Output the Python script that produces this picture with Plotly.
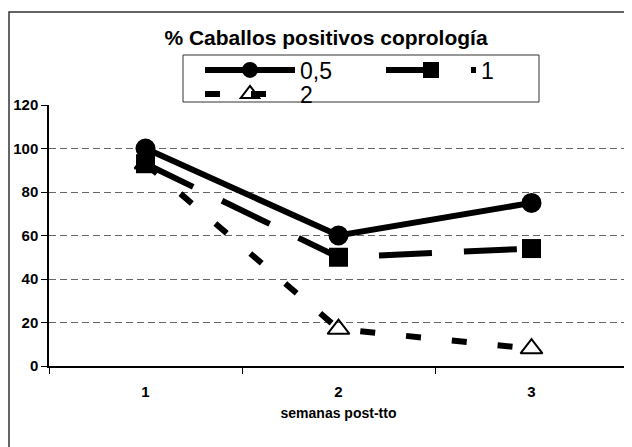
import plotly.graph_objects as go

# semanas post-tratamiento
weeks = [1, 2, 3]

# % caballos positivos por dosis
dose_labels = ["0,5", "1", "2"]
pos_05 = [100, 60, 75]
pos_1 = [93, 50, 54]
pos_2 = [93, 17, 8]

# the page body adds an 8px offset, so figure px = page px - 8
W, H = 624, 439
L, R, T, B = 41, 4, 97, 81
PW, PH = W - L - R, H - T - B


def px_x(v):
    return (v - 8 - L) / PW


def px_y(v):
    return (H - B - (v - 8)) / PH


fig = go.Figure()

fig.add_trace(go.Scatter(
    x=weeks, y=pos_05, name=dose_labels[0], mode="lines+markers",
    line=dict(color="black", width=6),
    marker=dict(symbol="circle", size=20, color="black"),
))
fig.add_trace(go.Scatter(
    x=weeks, y=pos_1, name=dose_labels[1], mode="lines+markers",
    line=dict(color="black", width=6, dash="53px,32px"),
    marker=dict(symbol="square", size=19, color="black"),
))
fig.add_trace(go.Scatter(
    x=weeks, y=pos_2, name=dose_labels[2], mode="lines+markers", legend="legend2",
    line=dict(color="black", width=6, dash="15px,31px"),
    marker=dict(symbol="triangle-up-open", size=19, color="black",
                line=dict(width=2, color="black")),
))

# outer chart frame (only left and top edges are visible in the crop)
fig.add_shape(type="rect", xref="paper", yref="paper",
              x0=px_x(9), x1=1.2, y0=-0.5, y1=px_y(12),
              line=dict(color="#333333", width=1.5), layer="below")
# right border of the plot area
fig.add_shape(type="line", xref="paper", yref="paper",
              x0=1, x1=1, y0=0, y1=1, line=dict(color="#555555", width=1.5))
# legend box
fig.add_shape(type="rect", xref="paper", yref="paper",
              x0=px_x(183), x1=px_x(539), y0=px_y(102), y1=px_y(55),
              line=dict(color="#333333", width=1), fillcolor="white", layer="above")

legend_common = dict(orientation="h", x=px_x(200), xanchor="left", yanchor="middle",
                     borderwidth=0, bgcolor="rgba(0,0,0,0)",
                     font=dict(size=23), itemwidth=90, entrywidth=76)

fig.update_layout(
    width=W, height=H,
    margin=dict(l=L, r=R, t=T, b=B, autoexpand=False),
    paper_bgcolor="white", plot_bgcolor="white",
    font=dict(family="Arial, Liberation Sans", color="black"),
    title=dict(text="<b>% Caballos positivos coprología</b>",
               x=(326 - 8) / W, xanchor="center", y=1 - 30 / H, yanchor="middle",
               font=dict(size=21)),
    showlegend=True,
    legend=dict(legend_common, y=px_y(70)),
    legend2=dict(legend_common, y=px_y(94)),
    xaxis=dict(range=[0.5, 3.5], tickvals=weeks,
               ticktext=["<b>%d</b>" % w for w in weeks],
               ticks="outside", ticklen=11, tickcolor="rgba(0,0,0,0)",
               showgrid=False, zeroline=False,
               showline=True, linecolor="black", linewidth=1.5,
               tickfont=dict(size=15),
               minor=dict(tick0=0.5, dtick=1, ticks="outside", ticklen=6,
                          tickcolor="black", showgrid=False),
               title=dict(text="<b>semanas post-tto</b>", font=dict(size=14), standoff=9)),
    yaxis=dict(range=[0, 120], dtick=20, ticks="outside", ticklen=6, tickcolor="black",
               showgrid=True, gridcolor="#666666", griddash="7px,4px", gridwidth=1,
               zeroline=False, showline=True, linecolor="black", linewidth=1.5,
               tickfont=dict(size=15), tickprefix="<b>", ticksuffix="</b>"),
)

fig.write_html("out.html")
